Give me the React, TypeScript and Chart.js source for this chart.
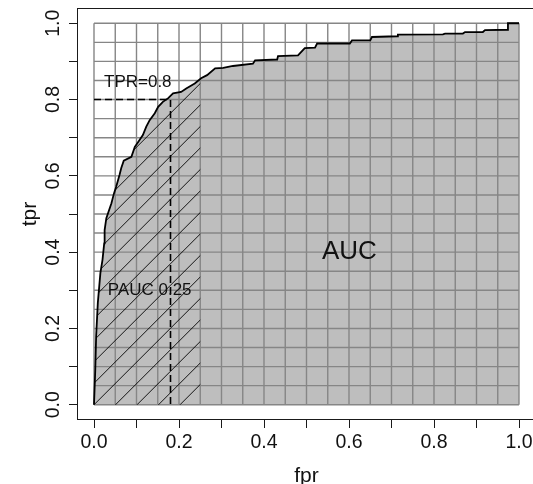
import React, { useEffect, useRef } from 'react';
import { Chart, registerables } from 'chart.js';

Chart.register(...registerables);

// ROC curve (false positive rate / true positive rate)
const fprValues = [
  0, 0.003, 0.005, 0.009, 0.015, 0.02, 0.024, 0.025, 0.029, 0.033, 0.041, 0.047, 0.052, 0.06,
  0.064, 0.07, 0.088, 0.096, 0.104, 0.115, 0.123, 0.131, 0.143, 0.151, 0.162, 0.174, 0.186,
  0.205, 0.217, 0.237, 0.252, 0.266, 0.285, 0.304, 0.327, 0.374, 0.379, 0.431, 0.433, 0.48,
  0.496, 0.52, 0.525, 0.602, 0.607, 0.65, 0.654, 0.713, 0.715, 0.821, 0.826, 0.868, 0.873,
  0.915, 0.92, 0.974, 0.974, 1,
];
const tprValues = [
  0, 0.092, 0.179, 0.267, 0.345, 0.38, 0.423, 0.458, 0.489, 0.502, 0.528, 0.554, 0.571, 0.602,
  0.62, 0.64, 0.65, 0.676, 0.689, 0.707, 0.729, 0.746, 0.764, 0.781, 0.794, 0.803, 0.816,
  0.82, 0.829, 0.842, 0.856, 0.864, 0.882, 0.883, 0.888, 0.894, 0.903, 0.905, 0.914, 0.916,
  0.935, 0.936, 0.947, 0.947, 0.955, 0.955, 0.964, 0.966, 0.97, 0.971, 0.973, 0.973, 0.977,
  0.977, 0.982, 0.983, 1, 1,
];

const tickValues = [0, 0.1, 0.2, 0.3, 0.4, 0.5, 0.6, 0.7, 0.8, 0.9, 1.0];
const tickLabels = ['0.0', '', '0.2', '', '0.4', '', '0.6', '', '0.8', '', '1.0'];
const gridValues = [
  0, 0.05, 0.1, 0.15, 0.2, 0.25, 0.3, 0.35, 0.4, 0.45, 0.5, 0.55, 0.6, 0.65, 0.7, 0.75, 0.8,
  0.85, 0.9, 0.95, 1.0,
];

const PAUC_LIMIT = 0.25;
const TPR_CUT = 0.8;
const FPR_AT_CUT = 0.18;

const annotations = [
  { text: 'TPR=0.8', x: 0.103, y: 0.845, size: 17 },
  { text: 'PAUC 0.25', x: 0.131, y: 0.299, size: 17 },
  { text: 'AUC', x: 0.601, y: 0.4, size: 26 },
];

const FONT = '"Liberation Sans", Arial, Helvetica, sans-serif';

const rocDecor = {
  id: 'rocDecor',
  beforeDatasetsDraw(chart: any) {
    const { ctx } = chart;
    const xs = chart.scales.x;
    const ys = chart.scales.y;
    const px = (v: number) => xs.getPixelForValue(v);
    const py = (v: number) => ys.getPixelForValue(v);

    // grid every 0.05 within the unit square
    ctx.save();
    ctx.strokeStyle = '#868686';
    ctx.lineWidth = 1.4;
    ctx.beginPath();
    for (const g of gridValues) {
      ctx.moveTo(px(g), py(0));
      ctx.lineTo(px(g), py(1));
      ctx.moveTo(px(0), py(g));
      ctx.lineTo(px(1), py(g));
    }
    ctx.stroke();
    ctx.restore();

    // hatching of partial AUC region
    const pts: [number, number][] = [];
    for (let i = 0; i < fprValues.length; i++) {
      if (fprValues[i] <= PAUC_LIMIT) {
        pts.push([fprValues[i], tprValues[i]]);
      } else {
        const f0 = fprValues[i - 1];
        const t0 = tprValues[i - 1];
        const t = t0 + ((tprValues[i] - t0) * (PAUC_LIMIT - f0)) / (fprValues[i] - f0);
        pts.push([PAUC_LIMIT, t]);
        break;
      }
    }
    ctx.save();
    ctx.beginPath();
    ctx.moveTo(px(0), py(0));
    for (const [f, t] of pts) ctx.lineTo(px(f), py(t));
    ctx.lineTo(px(PAUC_LIMIT), py(0));
    ctx.closePath();
    ctx.clip();
    ctx.strokeStyle = '#000';
    ctx.lineWidth = 0.9;
    const x0 = px(0);
    const y0 = py(0);
    const d = 21.5;
    ctx.beginPath();
    for (let k = -25; k <= 12; k++) {
      const c = x0 + y0 + k * d;
      const xa = x0 - 20;
      const xb = px(PAUC_LIMIT) + 20;
      ctx.moveTo(xa, c - xa);
      ctx.lineTo(xb, c - xb);
    }
    ctx.stroke();
    ctx.restore();
  },
  afterDraw(chart: any) {
    const { ctx, chartArea } = chart;
    const xs = chart.scales.x;
    const ys = chart.scales.y;
    ctx.save();
    ctx.strokeStyle = '#1a1a1a';
    ctx.lineWidth = 1;
    const l = Math.round(chartArea.left) + 0.5;
    const t = Math.round(chartArea.top) + 0.5;
    const r = Math.round(chartArea.right) - 0.5;
    const b = Math.round(chartArea.bottom) - 0.5;
    ctx.strokeRect(l, t, r - l, b - t);
    ctx.fillStyle = '#111';
    ctx.textAlign = 'center';
    ctx.textBaseline = 'middle';
    for (const a of annotations) {
      ctx.font = `${a.size}px ${FONT}`;
      ctx.fillText(a.text, xs.getPixelForValue(a.x), ys.getPixelForValue(a.y));
    }
    ctx.restore();
  },
};

export default function App() {
  const ref = useRef<HTMLCanvasElement | null>(null);

  useEffect(() => {
    if (!ref.current) return;
    const curve = fprValues.map((f, i) => ({ x: f, y: tprValues[i] }));
    const cutLine = [
      { x: 0, y: TPR_CUT },
      { x: FPR_AT_CUT, y: TPR_CUT },
      { x: FPR_AT_CUT, y: 0 },
    ];
    const tickFont = { family: FONT, size: 19.5, lineHeight: 1.2 };
    const chart = new Chart(ref.current, {
      type: 'line',
      data: {
        datasets: [
          {
            data: curve,
            borderColor: '#000',
            borderWidth: 1.8,
            backgroundColor: '#bebebe',
            fill: 'origin',
            pointRadius: 0,
            tension: 0,
          },
          {
            data: cutLine,
            borderColor: '#000',
            borderWidth: 1.6,
            borderDash: [7, 4],
            fill: false,
            pointRadius: 0,
            tension: 0,
          },
        ],
      },
      options: {
        animation: false,
        responsive: false,
        devicePixelRatio: 1,
        layout: { padding: { left: 0, top: 8, right: 24, bottom: 0 } },
        plugins: {
          legend: { display: false },
          tooltip: { enabled: false },
          filler: { drawTime: 'beforeDatasetsDraw' },
        },
        scales: {
          x: {
            type: 'linear',
            min: -0.04,
            max: 1.04,
            afterBuildTicks: (s: any) => {
              s.ticks = tickValues.map((v) => ({ value: v }));
            },
            afterFit: (s: any) => {
              s.height = 64;
              s.paddingLeft = 0;
              s.paddingRight = 0;
            },
            ticks: {
              autoSkip: false,
              maxRotation: 0,
              minRotation: 0,
              padding: 3,
              color: '#111',
              font: tickFont,
              callback: (_v: any, i: number) => tickLabels[i],
            },
            grid: {
              drawOnChartArea: false,
              drawTicks: true,
              tickLength: 8,
              tickColor: '#1a1a1a',
              tickWidth: 1,
            },
            border: { display: false },
            title: {
              display: true,
              text: 'fpr',
              color: '#111',
              font: { family: FONT, size: 21, lineHeight: 0.7 },
              padding: { top: 0, bottom: 0 },
            },
          },
          y: {
            type: 'linear',
            min: -0.04,
            max: 1.04,
            afterBuildTicks: (s: any) => {
              s.ticks = tickValues.map((v) => ({ value: v }));
            },
            afterFit: (s: any) => {
              s.width = 77;
              s.paddingTop = 0;
              s.paddingBottom = 0;
            },
            ticks: {
              autoSkip: false,
              minRotation: 90,
              maxRotation: 90,
              crossAlign: 'center',
              padding: 2,
              color: '#111',
              font: tickFont,
              callback: (_v: any, i: number) => tickLabels[i],
            },
            grid: {
              drawOnChartArea: false,
              drawTicks: true,
              tickLength: 8,
              tickColor: '#1a1a1a',
              tickWidth: 1,
            },
            border: { display: false },
            title: {
              display: true,
              text: 'tpr',
              color: '#111',
              font: { family: FONT, size: 21, lineHeight: 1.2 },
              padding: { top: 18, bottom: 0 },
            },
          },
        },
      },
      plugins: [rocDecor],
    } as any);
    return () => chart.destroy();
  }, []);

  return (
    <div
      style={{
        position: 'fixed',
        left: 0,
        top: 0,
        width: 533,
        height: 484,
        overflow: 'hidden',
        background: '#fff',
      }}
    >
      <canvas ref={ref} width={560} height={484} style={{ display: 'block', width: 560, height: 484 }} />
    </div>
  );
}
